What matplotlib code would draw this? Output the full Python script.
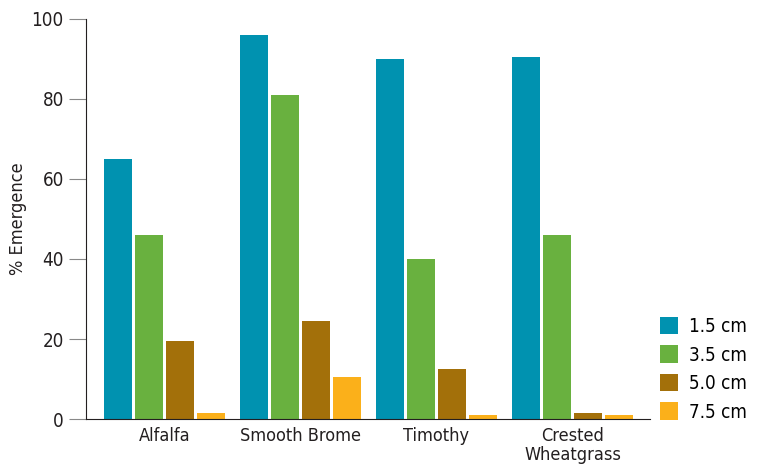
import matplotlib.pyplot as plt
import numpy as np

plt.rcParams['font.family'] = ['DejaVu Sans']
plt.rcParams['font.stretch'] = 'condensed'

species = ['Alfalfa', 'Smooth Brome', 'Timothy', 'Crested\nWheatgrass']
depths = ['1.5 cm', '3.5 cm', '5.0 cm', '7.5 cm']
emergence_15 = [65, 96, 90, 90.5]
emergence_35 = [46, 81, 40, 46]
emergence_50 = [19.5, 24.5, 12.5, 1.5]
emergence_75 = [1.5, 10.5, 1, 1]
colors = ['#0092B0', '#69B13F', '#A3700A', '#FBB01A']

series = [emergence_15, emergence_35, emergence_50, emergence_75]

fig = plt.figure(figsize=(7.57, 4.69), dpi=100)
ax = fig.add_axes([86 / 757, 50 / 469, 564 / 757, 400 / 469])

x = np.arange(len(species))
width = 0.2
step = 0.228
for i, (vals, lab, c) in enumerate(zip(series, depths, colors)):
    ax.bar(x + (i - 1.5) * step, vals, width, color=c, label=lab)

ax.set_xlim(-0.577, 3.57)
ax.set_ylim(0, 100)
ax.set_yticks([0, 20, 40, 60, 80, 100])
ax.set_xticks(x)
ax.set_xticklabels(species, fontsize=13, color='#231F20', linespacing=1.05)
ax.tick_params(axis='x', length=0, pad=6)
ax.tick_params(axis='y', length=12, color='#888888', labelsize=13.5, labelcolor='#231F20', pad=4)
ax.set_ylabel('% Emergence', fontsize=13, color='#231F20')
ax.yaxis.set_label_coords(-0.104, 0.5)

for s in ['top', 'right']:
    ax.spines[s].set_visible(False)
ax.spines['left'].set_color('#231F20')
ax.spines['bottom'].set_color('#231F20')

ax.legend(loc='lower left', bbox_to_anchor=(1.005, -0.025), frameon=False, fontsize=13.5,
          handlelength=0.95, handleheight=1.05, handletextpad=0.6, labelspacing=0.5,
          borderaxespad=0.0)

fig.savefig('out.png', dpi=100)
